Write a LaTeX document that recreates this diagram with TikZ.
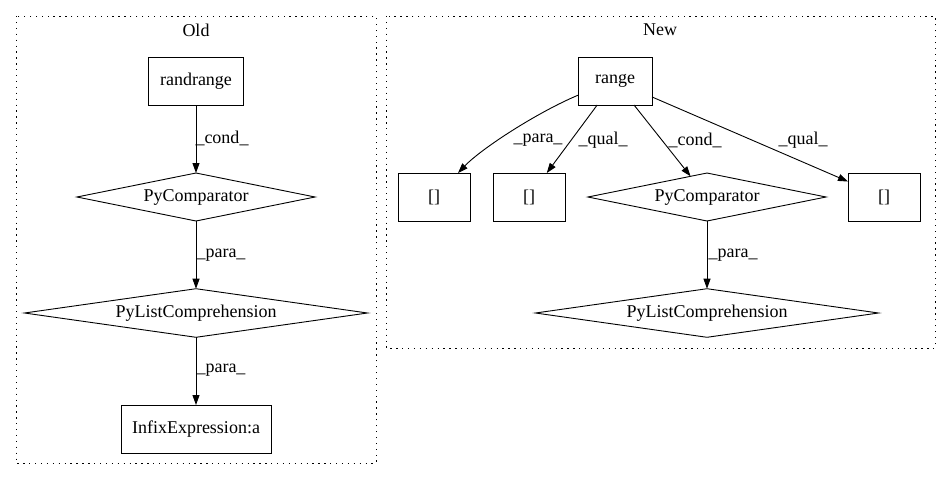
\documentclass[tikz,border=0pt]{standalone}
\usepackage{fontspec}
\setmainfont{Liberation Serif}
\usetikzlibrary{arrows.meta,shapes.geometric}
\begin{document}
\begin{tikzpicture}[x=1pt,y=-1pt,
  every node/.style={font=\fontsize{18}{21}\selectfont},
  boxnode/.style={draw, line width=0.9pt, rectangle, minimum width=#1, minimum height=48pt, inner sep=0pt, outer sep=0pt},
  dianode/.style={draw, line width=0.9pt, diamond, aspect=5, minimum width=#1, minimum height=48pt, inner sep=0pt, outer sep=0pt},
  cluster/.style={draw, line width=0.9pt, dash pattern=on 1.3pt off 4.6pt},
  conn/.style={draw, line width=0.9pt, -{Triangle[length=10pt,width=7pt]}},
  lbl/.style={inner sep=0pt}
]
\useasboundingbox (0,0) rectangle (947,480);
% clusters
\draw[cluster] (16,16) rectangle (376,463);
\draw[cluster] (386,16) rectangle (935,348);
\node[lbl] (toldt) at (196,30) {Old};
\node[lbl] (tnewt) at (660,30) {New};
% Old nodes
\node[boxnode=95pt] (rr) at (196,81) {randrange};
\node[dianode=238pt] (pc1) at (196,197) {PyComparator};
\node[dianode=343pt] (plc1) at (196,313) {PyListComprehension};
\node[boxnode=150pt] (inf) at (196,429) {InfixExpression:a};
% New nodes
\node[boxnode=74pt] (rg) at (615,81) {range};
\node[boxnode=72pt] (b1) at (434,197) {[]};
\node[boxnode=72pt] (b2) at (529,197) {[]};
\node[dianode=238pt] (pc2) at (707,197) {PyComparator};
\node[boxnode=72pt] (b3) at (884,197) {[]};
\node[dianode=343pt] (plc2) at (707,313) {PyListComprehension};
% Old edges
\draw[conn] (rr) -- (pc1);
\draw[conn] (pc1) -- (plc1);
\draw[conn] (plc1) -- (inf);
\node[lbl] (l1) at (222,138) {\_cond\_};
\node[lbl] (l2) at (221,255) {\_para\_};
\node[lbl] (l3) at (221,370) {\_para\_};
% New edges
\draw[conn] (rg.201) .. controls (538,112) and (482,148) .. (b1.45);
\draw[conn] (rg) -- (b2);
\draw[conn] (rg) -- (pc2);
\draw[conn] (rg) -- (b3);
\draw[conn] (pc2) -- (plc2);
\node[lbl] (l4) at (538,140) {\_para\_};
\node[lbl] (l5) at (603,140) {\_qual\_};
\node[lbl] (l6) at (695,140) {\_cond\_};
\node[lbl] (l7) at (803,140) {\_qual\_};
\node[lbl] (l8) at (733,255) {\_para\_};
\end{tikzpicture}
\end{document}
